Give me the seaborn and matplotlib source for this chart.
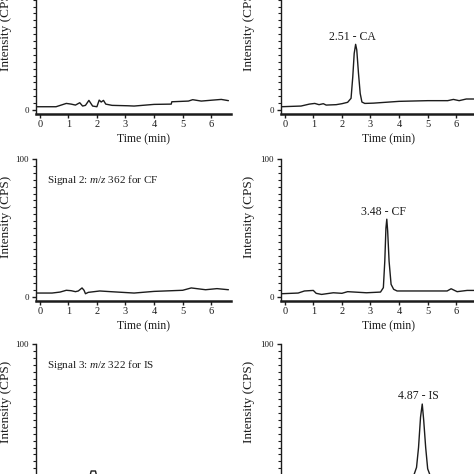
import numpy as np
import pandas as pd
import seaborn as sns
import matplotlib.pyplot as plt
from matplotlib.ticker import MultipleLocator

# chromatogram traces (time in min, intensity in CPS %)
t_blank_1 = [-0.13, 0.57, 0.93, 1.1, 1.25, 1.4, 1.5, 1.6, 1.72, 1.85, 2.0, 2.08, 2.15, 2.23, 2.31, 2.53, 3.08, 3.3, 4.0, 4.6, 4.62, 5.2, 5.35, 5.65, 6.05, 6.35, 6.6]
y_blank_1 = [2.4, 2.4, 4.8, 4.3, 3.6, 5.3, 2.9, 3.4, 7.0, 2.9, 2.4, 7.2, 5.8, 7.0, 4.3, 3.4, 3.1, 2.9, 4.1, 4.3, 6.0, 6.5, 7.5, 6.5, 7.2, 7.7, 6.8]

t_sample_1 = [-0.13, 0.57, 0.86, 1.05, 1.2, 1.35, 1.45, 1.8, 2.0, 2.2, 2.32, 2.38, 2.43, 2.48, 2.52, 2.58, 2.64, 2.7, 2.8, 3.1, 4.0, 5.0, 5.7, 5.9, 6.1, 6.35, 6.8]
y_sample_1 = [2.4, 2.9, 4.3, 4.8, 3.9, 4.6, 3.6, 3.9, 4.6, 5.6, 8.5, 24, 41, 47.6, 43.5, 26.6, 12, 5.8, 4.8, 5.0, 6.3, 6.8, 6.8, 7.7, 6.8, 8.0, 8.0]

t_blank_2 = [-0.13, 0.43, 0.71, 0.93, 1.1, 1.25, 1.35, 1.48, 1.55, 1.6, 1.7, 2.1, 2.48, 3.3, 4.0, 5.0, 5.3, 5.8, 6.2, 6.6]
y_blank_2 = [2.9, 2.9, 3.6, 4.9, 4.6, 3.9, 4.4, 6.6, 4.9, 2.4, 3.4, 4.4, 3.9, 2.9, 4.1, 4.9, 6.6, 5.3, 6.1, 5.3]

t_sample_2 = [-0.13, 0.47, 0.69, 1.0, 1.1, 1.29, 1.7, 2.0, 2.2, 2.86, 3.35, 3.45, 3.5, 3.54, 3.57, 3.6, 3.65, 3.72, 3.81, 3.93, 4.1, 5.0, 5.68, 5.82, 6.03, 6.38, 6.8]
y_sample_2 = [2.4, 2.9, 4.4, 4.8, 2.7, 1.9, 3.1, 2.7, 3.9, 3.1, 3.6, 6.8, 26, 50, 56.4, 48, 26, 9.2, 5.6, 4.4, 4.4, 4.4, 4.4, 6.0, 3.9, 4.8, 4.8]

t_blank_3 = [-0.13, 0.5, 1.0, 1.5, 1.75, 1.8, 1.95, 2.0, 2.3, 3.0, 4.0, 5.0, 6.0, 6.65]
y_blank_3 = [2.5, 2.8, 3.5, 3.0, 3.5, 8.0, 8.0, 3.5, 3.0, 3.0, 3.5, 4.0, 4.5, 4.5]

t_sample_3 = [-0.13, 1.0, 2.0, 3.0, 4.0, 4.5, 4.61, 4.68, 4.75, 4.81, 4.86, 4.93, 5.0, 5.1, 6.0, 6.8]
y_sample_3 = [3.0, 3.5, 3.0, 3.5, 3.5, 4.0, 10.6, 25, 47, 56.5, 45, 25, 9.6, 4.0, 4.0, 4.0]

peak_times = [2.48, 3.57, 4.81]
peak_heights = [47.6, 56.4, 56.5]
peak_labels = ["2.51 - CA", "3.48 - CF", "4.87 - IS"]
# the first signal caption lies above the cropped picture, so only rows 2 and 3 carry one
signal_labels = [None,
                 "Signal 2: $\\mathit{m/z}$ 362 for CF",
                 "Signal 3: $\\mathit{m/z}$ 322 for IS"]
x_ticks = [0, 1, 2, 3, 4, 5, 6]

sns.set_theme(style="ticks")
plt.rcParams['font.family'] = ['Liberation Serif', 'DejaVu Serif']
plt.rcParams['mathtext.fontset'] = 'custom'
plt.rcParams['mathtext.rm'] = 'Liberation Serif'
plt.rcParams['mathtext.it'] = 'Liberation Serif:italic'

ink = '#1c1c1c'
fig = plt.figure(figsize=(4.74, 4.74), dpi=100)

# panel boxes in pixels (figure is cropped at top/bottom/right like the reference)
W = 474.0
row_tops = [-28, 159, 344]
col_lefts = [36, 281]
ax_w, ax_h = 195, 141.5

traces = [
    [(t_blank_1, y_blank_1), (t_sample_1, y_sample_1)],
    [(t_blank_2, y_blank_2), (t_sample_2, y_sample_2)],
    [(t_blank_3, y_blank_3), (t_sample_3, y_sample_3)],
]

for r in range(3):
    for c in range(2):
        left = col_lefts[c] / W
        bottom = 1 - (row_tops[r] + ax_h) / W
        ax = fig.add_axes([left, bottom, ax_w / W, ax_h / W])
        t, y = traces[r][c]
        df = pd.DataFrame({'time': t, 'intensity': y})
        sns.lineplot(data=df, x='time', y='intensity', ax=ax, color=ink,
                     linewidth=1.0, estimator=None, sort=False)
        ax.set_xlim(-0.13, 6.69)
        ax.set_ylim(-2.5, 100)
        sns.despine(ax=ax)
        ax.spines['left'].set_linewidth(1.0)
        ax.spines['bottom'].set_linewidth(1.8)
        ax.spines['left'].set_color(ink)
        ax.spines['bottom'].set_color(ink)
        ax.set_xticks(x_ticks)
        ax.set_yticks([0, 100])
        ax.yaxis.set_minor_locator(MultipleLocator(5))
        ax.tick_params(axis='x', which='major', labelsize=7.5, length=3,
                       width=1, colors=ink, pad=2)
        ax.tick_params(axis='y', which='major', labelsize=6.5, length=3,
                       width=1, colors=ink, pad=2)
        ax.tick_params(axis='y', which='minor', length=2, width=0.8, colors=ink)
        ax.set_xlabel('Time (min)', fontsize=8.5, color=ink)
        ax.set_ylabel('Intensity (CPS)', fontsize=9.5, color=ink)
        ax.xaxis.set_label_coords(0.55, -0.14)
        ax.yaxis.set_label_coords(-0.122 if c == 0 else -0.135, 0.59)
        if c == 0 and signal_labels[r]:
            ax.text(0.25, 85, signal_labels[r], fontsize=8, color=ink,
                    ha='left', va='center')
        if c == 1:
            ax.text(peak_times[r] - 0.12, peak_heights[r] + 1.2, peak_labels[r],
                    fontsize=8.5, color=ink, ha='center', va='bottom')

fig.savefig('out.png', dpi=100)
